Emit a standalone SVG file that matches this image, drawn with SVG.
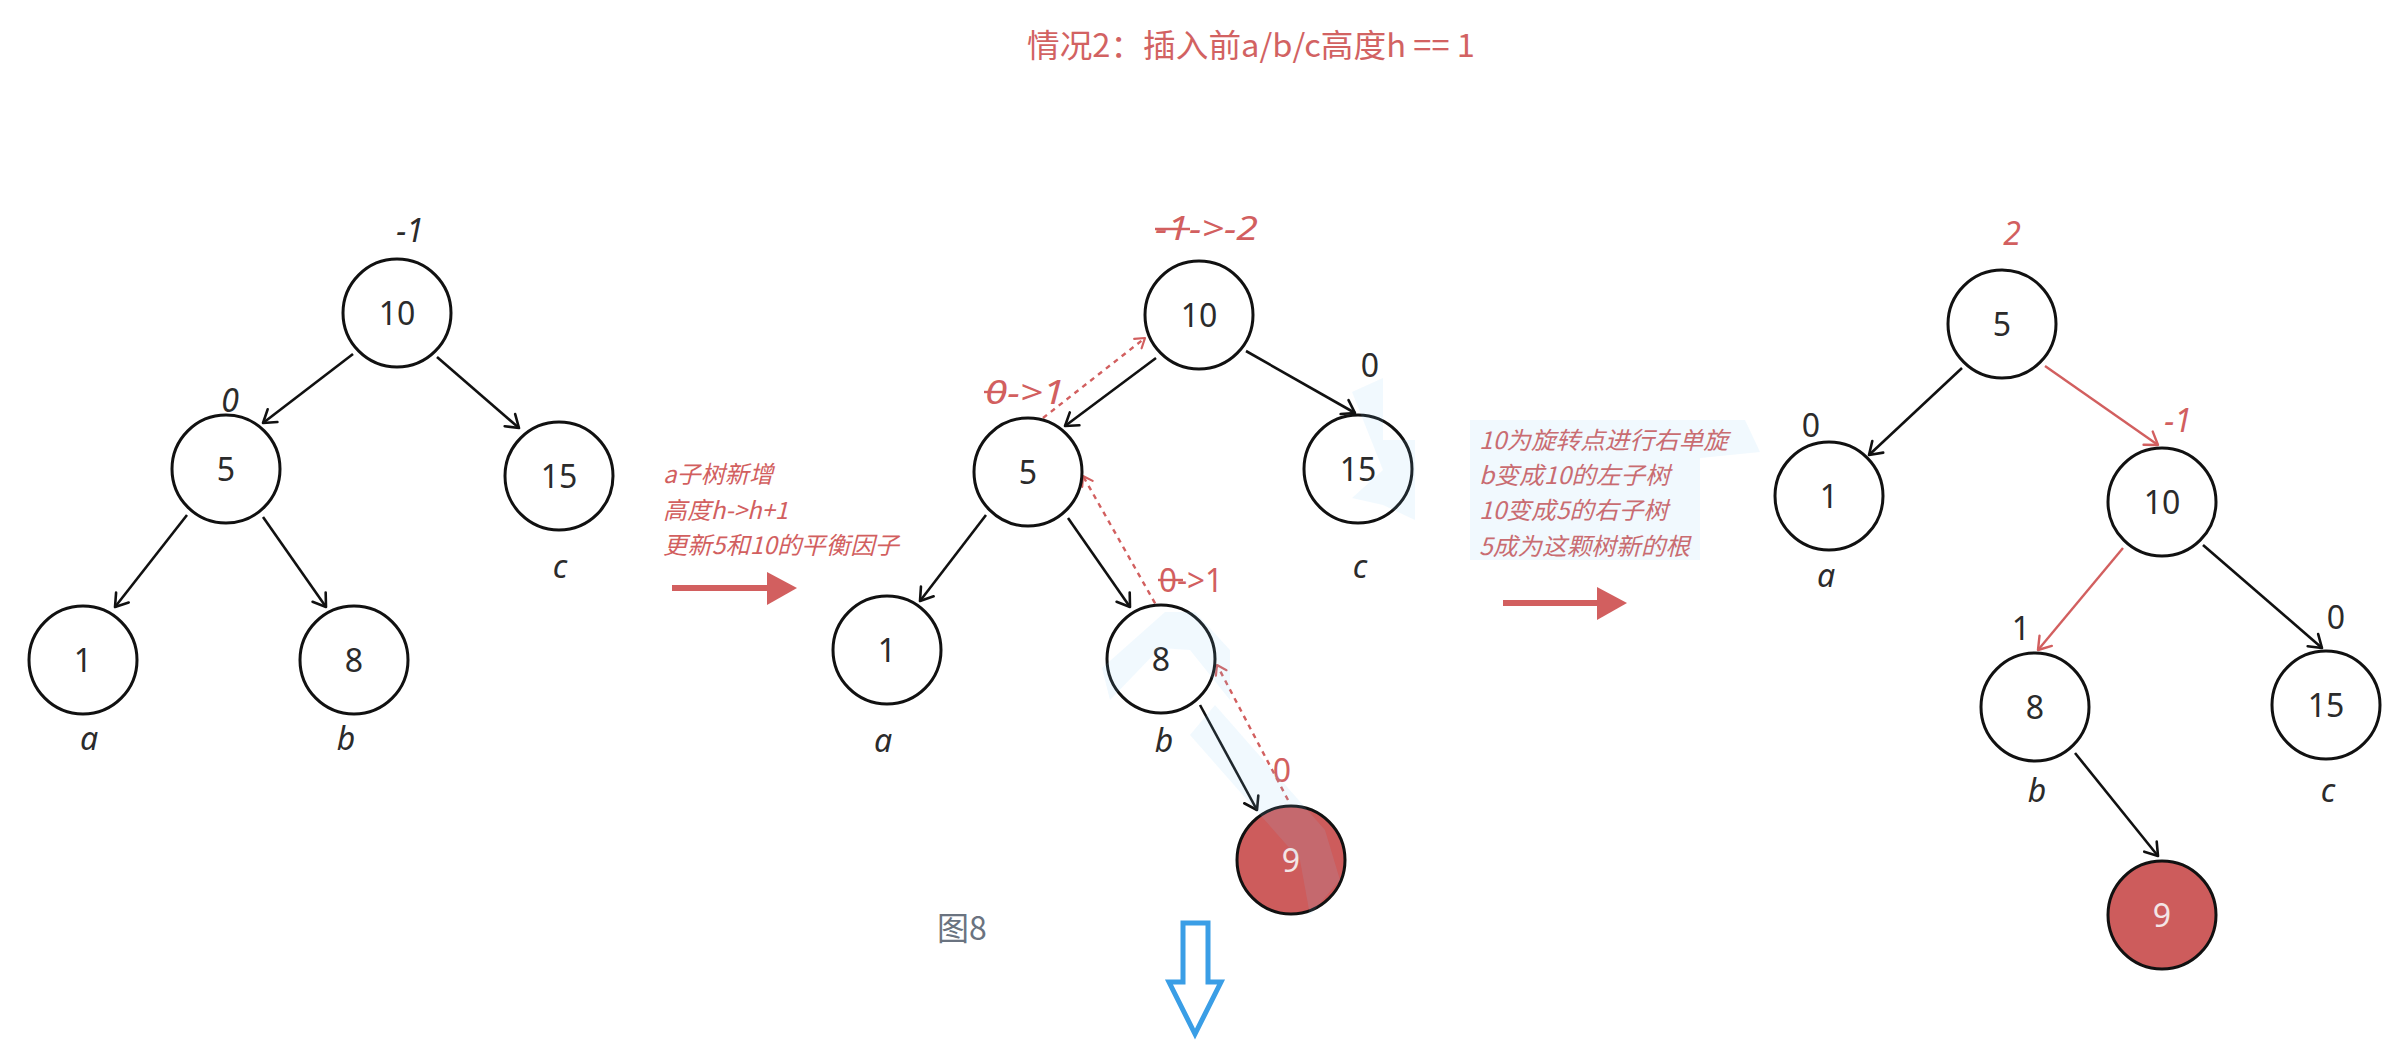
<svg xmlns="http://www.w3.org/2000/svg" width="2402" height="1062" viewBox="0 0 2402 1062">
<defs>
<style>
.nd{fill:#fff;stroke:#111;stroke-width:3}
.nr{fill:#cd5c5c;stroke:#111;stroke-width:3}
.num{font-family:"Noto Sans","DejaVu Sans",sans-serif;font-size:32px;fill:#2b2b2b;text-anchor:middle}
.numw{font-family:"Noto Sans","DejaVu Sans",sans-serif;font-size:32px;fill:#f3e6e6;text-anchor:middle}
.lbl{font-family:"Noto Sans","DejaVu Sans",sans-serif;font-size:32px;fill:#2b2b2b;text-anchor:middle}
.it{font-style:italic}
.red{fill:#d25f5f}
.e{fill:none;stroke:#111;stroke-width:2.6;marker-end:url(#ab)}
.er{fill:none;stroke:#d25f5f;stroke-width:2.4;marker-end:url(#ar)}
.ed{fill:none;stroke:#d25f5f;stroke-width:2.4;stroke-dasharray:5 5;marker-end:url(#ad)}
.cn{font-family:"Noto Sans CJK SC","Noto Sans",sans-serif;font-size:24px;font-style:italic;fill:#d25f5f}
.strike{stroke:#d25f5f;stroke-width:2.4}
.wm{fill:#8ecff5;opacity:0.12}
</style>
<marker id="ab" markerUnits="userSpaceOnUse" viewBox="0 0 20 20" markerWidth="20" markerHeight="20" refX="17" refY="10" orient="auto">
<path d="M5,2 L17,10 L5,18" fill="none" stroke="#111" stroke-width="2.6" stroke-linecap="round" stroke-linejoin="round"/>
</marker>
<marker id="ar" markerUnits="userSpaceOnUse" viewBox="0 0 20 20" markerWidth="20" markerHeight="20" refX="17" refY="10" orient="auto">
<path d="M5,2 L17,10 L5,18" fill="none" stroke="#d25f5f" stroke-width="2.4" stroke-linecap="round" stroke-linejoin="round"/>
</marker>
<marker id="ad" markerUnits="userSpaceOnUse" viewBox="0 0 20 20" markerWidth="20" markerHeight="20" refX="16" refY="10" orient="auto">
<path d="M7,4 L16,10 L7,16" fill="none" stroke="#d25f5f" stroke-width="2.2" stroke-linecap="round" stroke-linejoin="round"/>
</marker>
</defs>
<rect width="2402" height="1062" fill="#fff"/>

<text id="title" x="1251" y="57" font-family="'Noto Sans CJK SC','Noto Sans',sans-serif" font-size="32" fill="#d26262" text-anchor="middle" textLength="448" lengthAdjust="spacingAndGlyphs">情况2：插入前a/b/c高度h == 1</text>

<g id="connectors">
<!-- left tree -->
<path class="e" d="M353,354 L263,423"/>
<path class="e" d="M437,357 L519,428"/>
<path class="e" d="M187,515 L115,607"/>
<path class="e" d="M263,517 L326,607"/>
<!-- middle tree -->
<path class="e" d="M1156,358 L1065,426"/>
<path class="e" d="M1246,351 L1355,413"/>
<path class="e" d="M986,515 L920,601"/>
<path class="e" d="M1068,518 L1130,607"/>
<path class="e" d="M1200,705 L1257,810"/>
<path class="ed" d="M1043,418 L1145,338"/>
<path class="ed" d="M1160,612 L1083,476"/>
<path class="ed" d="M1288,800 L1217,665"/>
<!-- right tree -->
<path class="e" d="M1962,368 L1869,455"/>
<path class="er" d="M2045,366 L2158,445"/>
<path class="er" d="M2123,548 L2038,650"/>
<path class="e" d="M2203,545 L2322,648"/>
<path class="e" d="M2075,753 L2158,856"/>
<!-- big red arrows -->
<g id="arrow-mid">
<line x1="672" y1="588" x2="770" y2="588" stroke="#d25f5f" stroke-width="6"/>
<polygon points="767,572 797,588 767,605" fill="#d25f5f"/>
</g>
<g id="arrow-right">
<line x1="1503" y1="603" x2="1600" y2="603" stroke="#d25f5f" stroke-width="6"/>
<polygon points="1597,587 1627,603 1597,620" fill="#d25f5f"/>
</g>
<!-- blue hollow arrow -->
<polygon id="arrow-down" points="1183,923 1208,923 1208,982 1221,982 1195,1034 1169,982 1183,982" fill="none" stroke="#3a9ee6" stroke-width="5" stroke-linejoin="miter"/>
</g>

<!-- left tree nodes -->
<g id="L10"><circle class="nd" cx="397" cy="313" r="54"/><text class="num" x="397" y="325">10</text></g>
<g id="L5"><circle class="nd" cx="226" cy="469" r="54"/><text class="num" x="226" y="481">5</text></g>
<g id="L15"><circle class="nd" cx="559" cy="476" r="54"/><text class="num" x="559" y="488">15</text></g>
<g id="L1"><circle class="nd" cx="83" cy="660" r="54"/><text class="num" x="83" y="672">1</text></g>
<g id="L8"><circle class="nd" cx="354" cy="660" r="54"/><text class="num" x="354" y="672">8</text></g>
<g id="L-labels">
<text class="lbl it" x="410" y="242">-1</text>
<text class="lbl it" x="230" y="412">0</text>
<text class="lbl it" x="560" y="578">c</text>
<text class="lbl it" x="89" y="750">a</text>
<text class="lbl it" x="346" y="750">b</text>
</g>

<!-- middle tree nodes -->
<g id="M10"><circle class="nd" cx="1199" cy="315" r="54"/><text class="num" x="1199" y="327">10</text></g>
<g id="M5"><circle class="nd" cx="1028" cy="472" r="54"/><text class="num" x="1028" y="484">5</text></g>
<g id="M15"><circle class="nd" cx="1358" cy="469" r="54"/><text class="num" x="1358" y="481">15</text></g>
<g id="M1"><circle class="nd" cx="887" cy="650" r="54"/><text class="num" x="887" y="662">1</text></g>
<g id="M8"><circle class="nd" cx="1161" cy="659" r="54"/><text class="num" x="1161" y="671">8</text></g>
<g id="M9"><circle class="nr" cx="1291" cy="860" r="54"/><text class="numw" x="1291" y="872">9</text></g>
<g id="M-labels">
<text class="lbl it red" x="1155" y="240" style="text-anchor:start" textLength="103" lengthAdjust="spacingAndGlyphs">-1->-2</text>
<line class="strike" x1="1155" y1="229" x2="1190" y2="229"/>
<text class="lbl it red" x="985" y="404" style="text-anchor:start" textLength="80" lengthAdjust="spacingAndGlyphs">0->1</text>
<line class="strike" x1="984" y1="392" x2="1006" y2="392"/>
<text class="lbl" x="1370" y="377">0</text>
<text class="lbl red" x="1159" y="592" style="text-anchor:start" textLength="64" lengthAdjust="spacingAndGlyphs">0->1</text>
<line class="strike" x1="1158" y1="580" x2="1183" y2="580"/>
<text class="lbl red" x="1282" y="782">0</text>
<text class="lbl it" x="883" y="752">a</text>
<text class="lbl it" x="1164" y="752">b</text>
<text class="lbl it" x="1360" y="578">c</text>
<text x="937" y="940" font-family="'Noto Sans CJK SC','Noto Sans',sans-serif" font-size="32" fill="#6a7380">图8</text>
</g>
<g id="note-mid">
<text class="cn" x="663" y="483" textLength="110" lengthAdjust="spacingAndGlyphs">a子树新增</text>
<text class="cn" x="663" y="519" textLength="125" lengthAdjust="spacingAndGlyphs">高度h->h+1</text>
<text class="cn" x="663" y="554" textLength="236" lengthAdjust="spacingAndGlyphs">更新5和10的平衡因子</text>
</g>
<g id="note-right">
<text class="cn" x="1479" y="449" textLength="249" lengthAdjust="spacingAndGlyphs">10为旋转点进行右单旋</text>
<text class="cn" x="1479" y="484" textLength="191" lengthAdjust="spacingAndGlyphs">b变成10的左子树</text>
<text class="cn" x="1479" y="519" textLength="189" lengthAdjust="spacingAndGlyphs">10变成5的右子树</text>
<text class="cn" x="1479" y="555" textLength="211" lengthAdjust="spacingAndGlyphs">5成为这颗树新的根</text>
</g>

<!-- right tree nodes -->
<g id="R5"><circle class="nd" cx="2002" cy="324" r="54"/><text class="num" x="2002" y="336">5</text></g>
<g id="R1"><circle class="nd" cx="1829" cy="496" r="54"/><text class="num" x="1829" y="508">1</text></g>
<g id="R10"><circle class="nd" cx="2162" cy="502" r="54"/><text class="num" x="2162" y="514">10</text></g>
<g id="R8"><circle class="nd" cx="2035" cy="707" r="54"/><text class="num" x="2035" y="719">8</text></g>
<g id="R15"><circle class="nd" cx="2326" cy="705" r="54"/><text class="num" x="2326" y="717">15</text></g>
<g id="R9"><circle class="nr" cx="2162" cy="915" r="54"/><text class="numw" x="2162" y="927">9</text></g>
<g id="R-labels">
<text class="lbl it red" x="2012" y="245">2</text>
<text class="lbl" x="1811" y="437">0</text>
<text class="lbl it red" x="2178" y="432">-1</text>
<text class="lbl it" x="1826" y="587">a</text>
<text class="lbl" x="2021" y="640">1</text>
<text class="lbl" x="2336" y="629">0</text>
<text class="lbl it" x="2037" y="802">b</text>
<text class="lbl it" x="2328" y="802">c</text>
</g>

<!-- faint watermark fragments -->
<g id="watermark">
<polygon class="wm" points="1352,392 1383,378 1383,440 1415,440 1415,520 1383,505 1352,498 1383,470"/>
<polygon class="wm" points="1102,668 1165,612 1195,612 1230,650 1230,700 1190,650 1160,648 1110,700"/>
<polygon class="wm" points="1190,735 1215,705 1325,830 1340,880 1310,915 1300,860"/>
<polygon class="wm" points="1470,420 1745,420 1760,452 1700,458 1700,560 1470,560" opacity="0.06"/>
</g>
</svg>
